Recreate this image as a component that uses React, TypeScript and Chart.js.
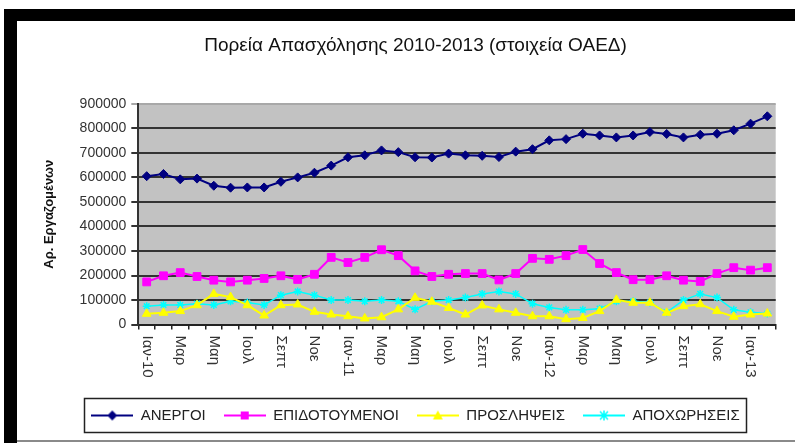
import React, { useEffect, useRef } from "react";
import { Chart, registerables } from "chart.js";

Chart.register(...registerables);

// ---- data ----
const MONTHS = [
  "Ιαν-10", "Φεβ", "Μαρ", "Απρ", "Μαη", "Ιουν", "Ιουλ", "Αυγ", "Σεπτ", "Οκτ", "Νοε", "Δεκ",
  "Ιαν-11", "Φεβ", "Μαρ", "Απρ", "Μαη", "Ιουν", "Ιουλ", "Αυγ", "Σεπτ", "Οκτ", "Νοε", "Δεκ",
  "Ιαν-12", "Φεβ", "Μαρ", "Απρ", "Μαη", "Ιουν", "Ιουλ", "Αυγ", "Σεπτ", "Οκτ", "Νοε", "Δεκ",
  "Ιαν-13", "Φεβ",
];
const LABEL_STEP = 2;

const SERIES_NAMES = ["ΑΝΕΡΓΟΙ", "ΕΠΙΔΟΤΟΥΜΕΝΟΙ", "ΠΡΟΣΛΗΨΕΙΣ", "ΑΠΟΧΩΡΗΣΕΙΣ"];

const ANERGOI = [
  605000, 614000, 592000, 595000, 566000, 558000, 559000, 559000, 582000, 600000, 619000, 648000,
  682000, 690000, 710000, 703000, 682000, 681000, 697000, 690000, 688000, 683000, 705000, 715000,
  751000, 756000, 778000, 771000, 763000, 771000, 785000, 777000, 763000, 774000, 778000, 792000,
  819000, 849000,
];
const EPIDOTOUMENOI = [
  174000, 199000, 212000, 196000, 181000, 174000, 181000, 188000, 199000, 184000, 205000, 274000,
  253000, 274000, 305000, 281000, 219000, 196000, 205000, 208000, 208000, 182000, 208000, 270000,
  266000, 281000, 306000, 249000, 212000, 183000, 183000, 199000, 181000, 176000, 208000, 232000,
  222000, 232000,
];
const PROSLIPSEIS = [
  44000, 48000, 55000, 79000, 125000, 112000, 79000, 37000, 79000, 82000, 52000, 41000,
  34000, 25000, 30000, 62000, 109000, 93000, 68000, 41000, 78000, 62000, 48000, 34000,
  34000, 22000, 27000, 55000, 101000, 89000, 89000, 48000, 75000, 83000, 55000, 32000,
  41000, 45000,
];
const APOXORISEIS = [
  75000, 80000, 80000, 85000, 80000, 95000, 90000, 80000, 120000, 135000, 120000, 100000,
  100000, 95000, 100000, 95000, 62000, 95000, 100000, 110000, 125000, 135000, 125000, 85000,
  70000, 60000, 60000, 65000, 95000, 95000, 90000, 50000, 100000, 125000, 110000, 60000,
  50000, 45000,
];

const Y_MIN = 0;
const Y_MAX = 900000;
const Y_STEP = 100000;

// ---- styles ----
const COLORS = ["#000080", "#FF00FF", "#FFFF00", "#00FFFF"];
const MARKERS = ["rectRot", "rect", "triangle", "star"];
const MARKER_R = [4.5, 5.5, 5, 4];
const PLOT_BG = "#C2C2C2";
const FONT = "'Liberation Sans', Arial, sans-serif";
const ICON_W = 42;

function makeIcon(color: string, kind: string): HTMLCanvasElement {
  const w = ICON_W;
  const h = 12;
  const c = document.createElement("canvas");
  c.width = w;
  c.height = h;
  const g = c.getContext("2d")!;
  const cx = w / 2;
  const cy = h / 2;
  g.strokeStyle = color;
  g.fillStyle = color;
  g.lineWidth = 2;
  g.beginPath();
  g.moveTo(0, cy);
  g.lineTo(w, cy);
  g.stroke();
  g.beginPath();
  if (kind === "rectRot") {
    g.moveTo(cx, cy - 5);
    g.lineTo(cx + 5, cy);
    g.lineTo(cx, cy + 5);
    g.lineTo(cx - 5, cy);
    g.closePath();
    g.fill();
  } else if (kind === "rect") {
    g.fillRect(cx - 4, cy - 4, 8, 8);
  } else if (kind === "triangle") {
    g.moveTo(cx, cy - 5);
    g.lineTo(cx + 5, cy + 4);
    g.lineTo(cx - 5, cy + 4);
    g.closePath();
    g.fill();
  } else {
    g.lineWidth = 1.5;
    g.moveTo(cx - 4, cy - 4);
    g.lineTo(cx + 4, cy + 4);
    g.moveTo(cx + 4, cy - 4);
    g.lineTo(cx - 4, cy + 4);
    g.moveTo(cx, cy - 5);
    g.lineTo(cx, cy + 5);
    g.stroke();
  }
  return c;
}

const bgPlugin = {
  id: "plotBg",
  beforeDraw(chart: any) {
    const { ctx, chartArea: a } = chart;
    ctx.save();
    ctx.fillStyle = PLOT_BG;
    ctx.fillRect(a.left, a.top, a.right - a.left, a.bottom - a.top);
    ctx.restore();
  },
};

const xLabelPlugin = {
  id: "xLabels",
  afterDraw(chart: any) {
    const xs = chart.scales.x;
    const ctx = chart.ctx;
    ctx.save();
    ctx.font = `15px ${FONT}`;
    ctx.fillStyle = "#333";
    ctx.textAlign = "left";
    ctx.textBaseline = "middle";
    for (let i = 0; i < MONTHS.length; i += LABEL_STEP) {
      const x = xs.getPixelForValue(i);
      ctx.save();
      ctx.translate(x, xs.top + 11);
      ctx.rotate(Math.PI / 2);
      ctx.fillText(MONTHS[i], 0, 0);
      ctx.restore();
    }
    ctx.restore();
  },
};

const legendBoxPlugin = {
  id: "legendBox",
  afterDraw(chart: any) {
    const lg = chart.legend;
    if (!lg || !lg.legendHitBoxes || !lg.legendHitBoxes.length) return;
    const hb = lg.legendHitBoxes;
    const l = Math.min(...hb.map((h: any) => h.left));
    const r = Math.max(...hb.map((h: any) => h.left + h.width));
    const t = Math.min(...hb.map((h: any) => h.top));
    const b = Math.max(...hb.map((h: any) => h.top + h.height));
    const ctx = chart.ctx;
    ctx.save();
    ctx.strokeStyle = "#222";
    ctx.lineWidth = 1.5;
    ctx.strokeRect(Math.round(l - 7) + 0.5, Math.round(t - 10) + 0.5, Math.round(r - l + 14), Math.round(b - t + 19));
    ctx.restore();
  },
};

function LineChart() {
  const ref = useRef<HTMLCanvasElement | null>(null);
  useEffect(() => {
    if (!ref.current) return;
    const icons = SERIES_NAMES.map((_, i) => makeIcon(COLORS[i], MARKERS[i]));
    const seriesData = [ANERGOI, EPIDOTOUMENOI, PROSLIPSEIS, APOXORISEIS];
    const chart = new Chart(ref.current, {
      type: "line",
      data: {
        labels: MONTHS,
        datasets: SERIES_NAMES.map((name, i) => ({
          label: name,
          data: seriesData[i],
          borderColor: COLORS[i],
          backgroundColor: COLORS[i],
          borderWidth: i === 3 ? 1.5 : 2,
          pointStyle: MARKERS[i] as any,
          pointRadius: MARKER_R[i],
          pointBorderWidth: i === 3 ? 1.5 : 1,
          pointBackgroundColor: COLORS[i],
          pointBorderColor: COLORS[i],
          tension: 0,
          fill: false,
        })),
      },
      options: {
        animation: false,
        responsive: false,
        events: [],
        layout: { padding: { left: 20, right: 1, top: 0, bottom: 13 } },
        plugins: {
          tooltip: { enabled: false },
          title: {
            display: true,
            text: "Πορεία Απασχόλησης 2010-2013 (στοιχεία ΟΑΕΔ)",
            color: "#111",
            font: { family: FONT, size: 19, weight: "normal" },
            padding: { top: 13, bottom: 47 },
          },
          legend: {
            display: true,
            position: "bottom",
            align: "center",
            labels: {
              color: "#222",
              font: { family: FONT, size: 15 },
              usePointStyle: true,
              pointStyleWidth: ICON_W,
              padding: 18,
              generateLabels: (c: any) => {
                const items = (Chart as any).defaults.plugins.legend.labels.generateLabels(c);
                items.forEach((it: any, i: number) => {
                  it.pointStyle = icons[it.datasetIndex ?? i];
                });
                return items;
              },
            },
          },
        },
        scales: {
          x: {
            type: "category",
            offset: true,
            grid: {
              display: true,
              drawOnChartArea: false,
              drawTicks: true,
              tickLength: 5,
              offset: true,
              color: "#222",
              lineWidth: 1.5,
            },
            border: { display: true, color: "#222", width: 2 },
            ticks: {
              autoSkip: false,
              maxRotation: 90,
              minRotation: 90,
              padding: 12,
              color: "rgba(0,0,0,0)",
              font: { family: FONT, size: 13 },
              callback: (_v: any, i: number) => (i % LABEL_STEP === 0 ? MONTHS[i] : ""),
            },
          },
          y: {
            min: Y_MIN,
            max: Y_MAX,
            grid: {
              color: (ctx: any) => (ctx.tick && ctx.tick.value === Y_MAX ? "#A8A8A8" : "#333"),
              lineWidth: 2,
              tickLength: 7,
              drawTicks: true,
            },
            border: { display: true, color: "#333", width: 2 },
            ticks: {
              stepSize: Y_STEP,
              padding: 5,
              color: "#333",
              font: { family: FONT, size: 14 },
              callback: (v: any) => String(v),
            },
            title: {
              display: true,
              text: "Αρ. Εργαζομένων",
              color: "#111",
              font: { family: FONT, size: 13, weight: "bold" },
              padding: { top: 5, bottom: 17 },
            },
          },
        },
      },
      plugins: [bgPlugin, xLabelPlugin, legendBoxPlugin],
    } as any);
    return () => chart.destroy();
  }, []);
  return <canvas ref={ref} width={778} height={425} style={{ display: "block" }} />;
}

export default function App() {
  return (
    <div
      style={{
        position: "fixed",
        left: 0,
        top: 0,
        width: 795,
        height: 443,
        overflow: "hidden",
        background: "#fff",
      }}
    >
      <div style={{ position: "absolute", left: 4, top: 9, width: 791, height: 12, background: "#000" }} />
      <div style={{ position: "absolute", left: 4, top: 9, width: 13, height: 434, background: "#000" }} />
      <div style={{ position: "absolute", left: 17, top: 21 }}>
        <LineChart />
      </div>
      <div style={{ position: "absolute", left: 17, top: 440, width: 778, height: 2, background: "#8a8a8a" }} />
    </div>
  );
}
